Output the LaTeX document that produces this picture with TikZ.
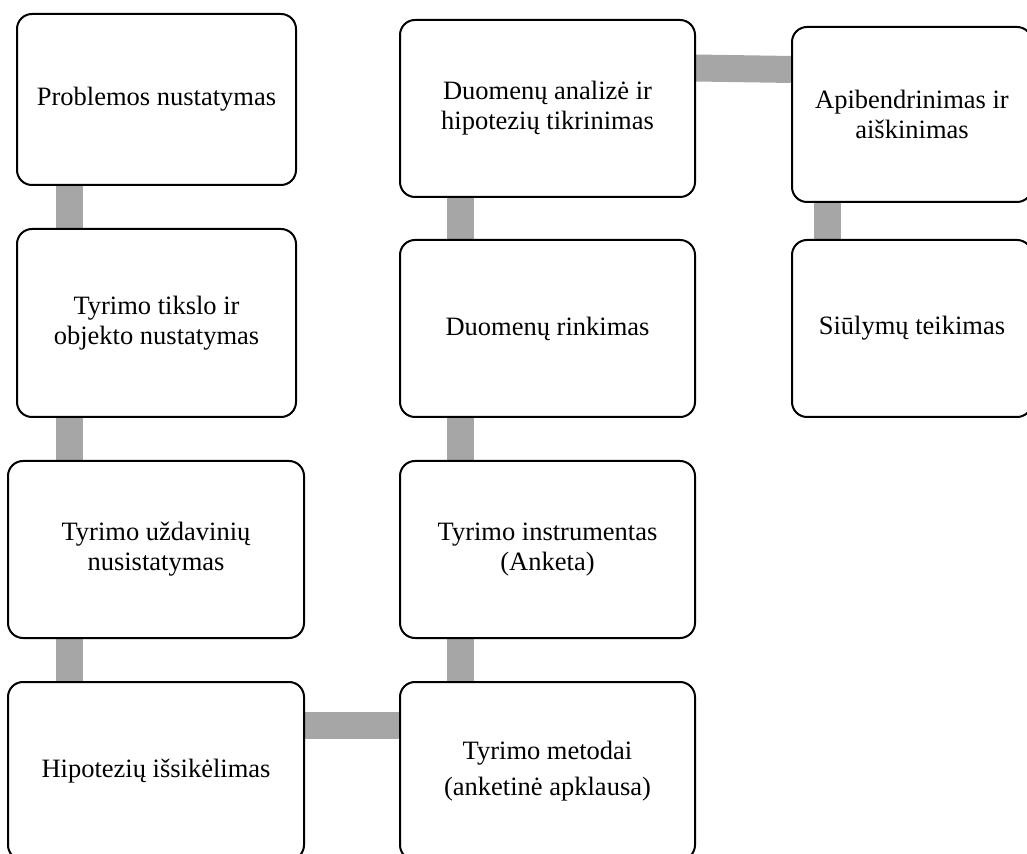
\documentclass[tikz,border=0pt]{standalone}
\usepackage{fontspec}
\setmainfont{Liberation Serif}
\usetikzlibrary{backgrounds, calc}

\begin{document}
\begin{tikzpicture}[x=0.5pt, y=-0.5pt,
    box/.style={draw=black, line width=1pt, rounded corners=7.5pt, fill=white,
        align=center, inner sep=0pt, outer sep=0pt,
        font=\fontsize{13.25}{15}\selectfont},
    bar/.style={draw=black!35, line width=13.5pt}]
    % Page frame (boxes at the bottom and right are cut off)
    \useasboundingbox (0,0) rectangle (1027,854);
    \clip (0,0) rectangle (1027,854);

    % Left column
    \node[box, minimum width=139.5pt, minimum height=85.5pt] (problem) at (156.5,99.5) {Problemos nustatymas};
    \node[box, minimum width=139.5pt, minimum height=94pt] (goal) at (156.5,323) {Tyrimo tikslo ir\\objekto nustatymas};
    \node[box, minimum width=148pt, minimum height=88.5pt] (tasks) at (156,549.5) {Tyrimo uždavinių\\nusistatymas};
    \node[box, minimum width=148pt, minimum height=89pt] (hypo) at (156,771) {Hipotezių išsikėlimas};

    % Middle column
    \node[box, minimum width=147.5pt, minimum height=88.5pt] (analysis) at (547.5,108.5) {Duomenų analizė ir\\hipotezių tikrinimas};
    \node[box, minimum width=147.5pt, minimum height=88.5pt] (collect) at (547.5,328.5) {Duomenų rinkimas};
    \node[box, minimum width=147.5pt, minimum height=88.5pt] (instrument) at (547.5,549.5) {Tyrimo instrumentas\\(Anketa)};
    \node[box, minimum width=147.5pt, minimum height=89pt] (methods) at (547.5,771) {Tyrimo metodai\\[3pt](anketinė apklausa)};

    % Right column
    \node[box, minimum width=120pt, minimum height=87.5pt] (summary) at (912,114.5) {Apibendrinimas ir\\aiškinimas};
    \node[box, minimum width=120pt, minimum height=88.5pt] (proposals) at (912,328.5) {Siūlymų teikimas};

    % Grey connecting bars
    \begin{scope}[on background layer]
        \draw[bar] ($(problem.south west)+(52.5,0)$) -- ($(goal.north west)+(52.5,0)$);
        \draw[bar] ($(goal.south west)+(52.5,0)$) -- ($(tasks.north west)+(61.5,0)$);
        \draw[bar] ($(tasks.south west)+(61.5,0)$) -- ($(hypo.north west)+(61.5,0)$);
        \draw[bar] ($(hypo.north east)+(0,43.5)$) -- ($(methods.north west)+(0,43.5)$);
        \draw[bar] ($(methods.north west)+(60.5,0)$) -- ($(instrument.south west)+(60.5,0)$);
        \draw[bar] ($(instrument.north west)+(60.5,0)$) -- ($(collect.south west)+(60.5,0)$);
        \draw[bar] ($(collect.north west)+(60.5,0)$) -- ($(analysis.south west)+(60.5,0)$);
        \draw[bar] ($(analysis.north east)+(0,48)$) -- ($(summary.north west)+(0,42.5)$);
        \draw[bar] ($(summary.south west)+(35.5,0)$) -- ($(proposals.north west)+(35.5,0)$);
    \end{scope}
\end{tikzpicture}
\end{document}
